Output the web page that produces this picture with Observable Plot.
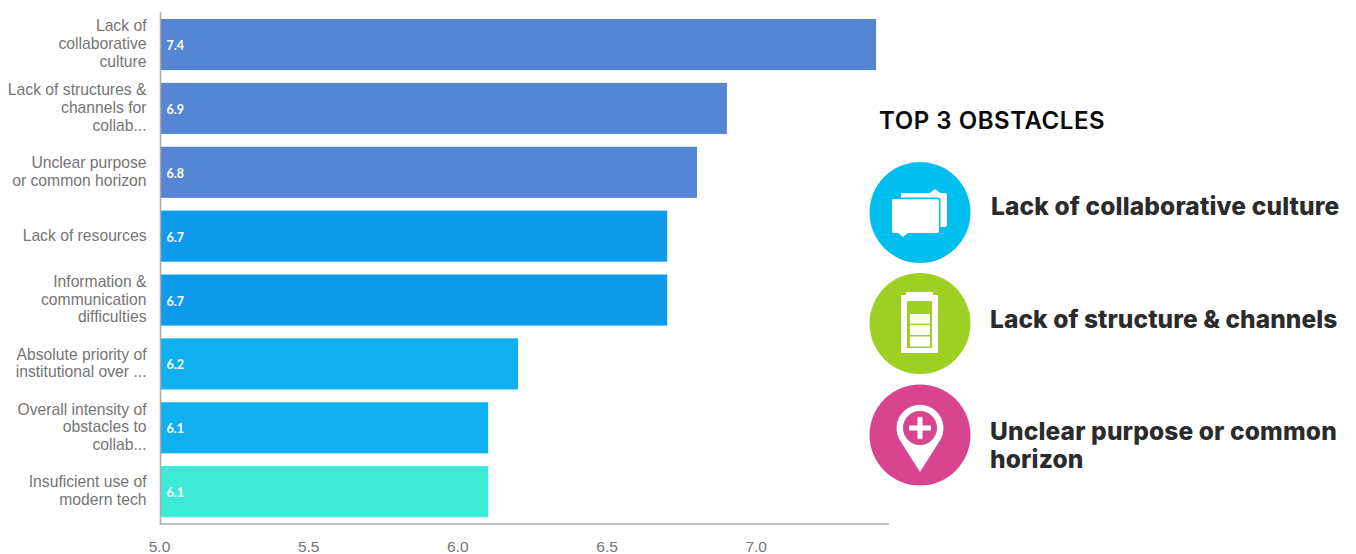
<!DOCTYPE html>
<html>
<head>
<meta charset="utf-8">
<script src="https://cdn.jsdelivr.net/npm/d3@7"></script>
<script src="https://cdn.jsdelivr.net/npm/@observablehq/plot@0.6"></script>
<style>
html,body{margin:0;padding:0;background:#fff;overflow:hidden}
#wrap{position:relative;width:1356px;height:554px}
#wrap svg{display:block}
#panel{position:absolute;left:0;top:0;width:1356px;height:554px;pointer-events:none}
.t{position:absolute;white-space:nowrap;font-family:Inter,sans-serif;color:#2b2b2b}
#title{left:879px;top:106px;font-size:24px;font-weight:600;color:#0a0a0a;line-height:30px;letter-spacing:.55px}
.o{font-size:24.5px;font-weight:800;line-height:28px;letter-spacing:.15px}
</style>
</head>
<body>
<div id="wrap">
<div id="chart"></div>
<div id="panel">
<svg width="1356" height="554" style="position:absolute;left:0;top:0">
  <circle cx="920" cy="212.5" r="50.5" fill="#00bfee"/>
  <path d="M901 193H930L935 189L940 193H945Q947 193 947 195V225Q947 227 945 227H900Z" fill="#fff"/>
  <rect x="890.5" y="197.5" width="50" height="37" rx="2.5" fill="#00bfee"/>
  <path d="M894 199H937Q939 199 939 201V231Q939 233 937 233H908L903 237L898 233H894Q892 233 892 231V201Q892 199 894 199Z" fill="#fff"/>
  <circle cx="920" cy="323.5" r="50.5" fill="#9dd022"/>
  <path d="M906 295V292H933V295H938V353H901V295Z" fill="#fff"/>
  <rect x="907" y="301" width="25" height="47" fill="#9dd022"/>
  <rect x="910" y="314" width="20" height="9.5" fill="#fff"/>
  <rect x="910" y="325" width="20" height="10" fill="#fff"/>
  <rect x="910" y="336.5" width="20" height="10" fill="#fff"/>
  <circle cx="920" cy="435" r="50.5" fill="#d9448f"/>
  <path d="M920 472L901 442A23.5 23.5 0 1 1 939 442Z" fill="#fff"/>
  <circle cx="920" cy="428" r="17" fill="#d9448f"/>
  <path d="M917.5 417H922.5V425.5H931V430.5H922.5V439H917.5V430.5H909V425.5H917.5Z" fill="#fff"/>
</svg>
<div class="t" id="title">TOP 3 OBSTACLES</div>
<div class="t o" style="left:991px;top:192px">Lack of collaborative culture</div>
<div class="t o" style="left:990px;top:305px;letter-spacing:.08px">Lack of structure &amp; channels</div>
<div class="t o" style="left:990px;top:417px">Unclear purpose or common<br>horizon</div>
</div>
</div>
<script>
const categories = [
  "Lack of\ncollaborative\nculture",
  "Lack of structures &\nchannels for\ncollab...",
  "Unclear purpose\nor common horizon",
  "Lack of resources",
  "Information &\ncommunication\ndifficulties",
  "Absolute priority of\ninstitutional over ...",
  "Overall intensity of\nobstacles to\ncollab...",
  "Insuficient use of\nmodern tech"
];
const values = [7.4, 6.9, 6.8, 6.7, 6.7, 6.2, 6.1, 6.1];
const barColors = ["#5586d6","#5586d6","#5586d6","#0f9bec","#0f9bec","#10b0f0","#10b0f0","#3dead8"];
const xTicks = [5.0, 5.5, 6.0, 6.5, 7.0];
const rows = categories.map((category, i) => ({category, value: values[i]}));

const plot = Plot.plot({
  width: 1356,
  height: 554,
  marginLeft: 160,
  marginRight: 468,
  marginTop: 12.6,
  marginBottom: 30.4,
  style: {background: "#fff", fontFamily: "'Liberation Sans', sans-serif"},
  x: {domain: [5, 7.44], ticks: xTicks, tickFormat: d3.format(".1f")},
  y: {domain: categories, paddingInner: 0.2, paddingOuter: 0.1, round: false, axis: null},
  color: {type: "ordinal", domain: categories, range: barColors},
  marks: [
    Plot.barX(rows, {x1: () => 5, x2: "value", y: "category", fill: "category"}),
    Plot.frame({anchor: "left", stroke: "#aaaaaa", strokeWidth: 1.5}),
    Plot.frame({anchor: "bottom", stroke: "#aaaaaa", strokeWidth: 1.5}),
    Plot.text(rows, {x: () => 5, y: "category", text: d => d.value.toFixed(1), dx: 6, dy: 1, textAnchor: "start",
      fill: "#fff", fontSize: 12.5, fontWeight: 700, fontFamily: "Lato, sans-serif"}),
    Plot.text(rows, {x: () => 5, y: "category", text: "category", dx: -14, dy: -1.5, textAnchor: "end", lineHeight: 1.13,
      fill: "#757575", fontSize: 15.7}),
    Plot.axisX({ticks: xTicks, tickSize: 0, tickPadding: 17, dx: -1, tickFormat: d3.format(".1f"), fontSize: 15.5, fill: "#757575", label: null, textAnchor: "middle"})
  ]
});
document.getElementById("chart").appendChild(plot);
</script>
</body>
</html>
